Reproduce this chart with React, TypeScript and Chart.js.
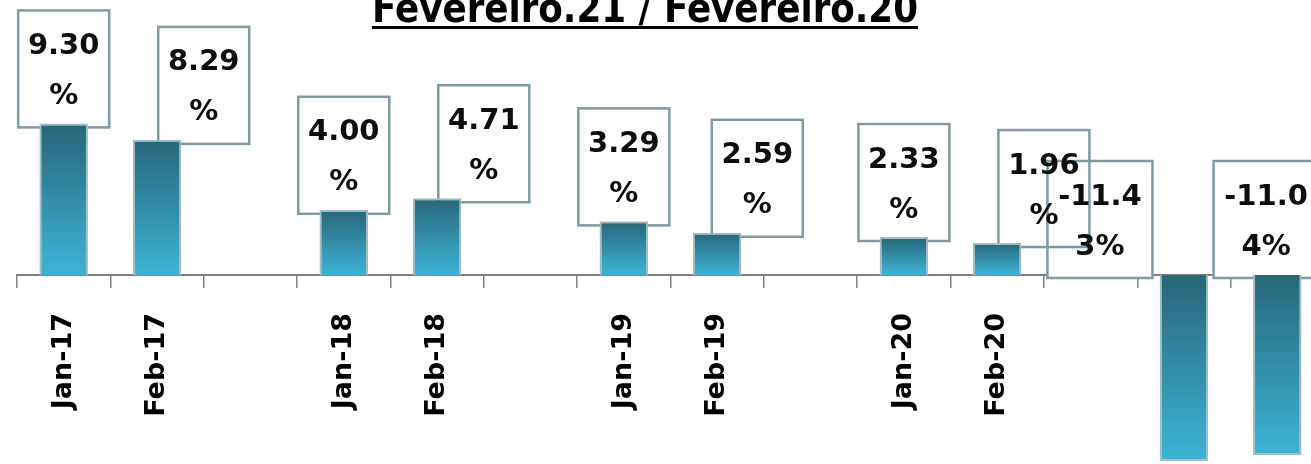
import React, { useEffect, useRef } from "react";
import { Chart, registerables } from "chart.js";

Chart.register(...registerables);

// ---- data ----
const categories = ["Jan-17", "Feb-17", "", "Jan-18", "Feb-18", "", "Jan-19", "Feb-19", "", "Jan-20", "Feb-20", "", "Jan-21", "Feb-21"];
const growth: (number | null)[] = [9.3, 8.29, null, 4.0, 4.71, null, 3.29, 2.59, null, 2.33, 1.96, null, -11.43, -11.04];
const titleText = "Fevereiro.21 / Fevereiro.20";
// horizontal nudge of each value box, in category widths
const labelShift = [0, 0.5, 0, 0, 0.5, 0, 0, 0.43, 0, 0, 0.5, 0, -0.9, -0.12];

const FONT = '"DejaVu Sans", Verdana, sans-serif';
const Y_MIN = -12;
const Y_MAX = 10;

export default function App() {
  const ref = useRef<HTMLCanvasElement | null>(null);

  useEffect(() => {
    const canvas = ref.current;
    if (!canvas) return;

    const barFill = (c: any) => {
      const chart = c.chart;
      const v = c.raw;
      const ys = chart.scales?.y;
      if (v == null || !ys || !chart.chartArea) return "#3391ad";
      const top = ys.getPixelForValue(Math.max(v, 0));
      const bottom = ys.getPixelForValue(Math.min(v, 0));
      const g = chart.ctx.createLinearGradient(0, top, 0, bottom);
      g.addColorStop(0, "#276778");
      g.addColorStop(1, "#3db3d7");
      return g;
    };

    const boxLabels = {
      id: "boxLabels",
      beforeDatasetsDraw(chart: any) {
        const ctx = chart.ctx as CanvasRenderingContext2D;
        const meta = chart.getDatasetMeta(0);
        const ys = chart.scales.y;
        const xs = chart.scales.x;
        const zero = ys.getPixelForValue(0);
        const cat = xs.width / categories.length;
        ctx.save();
        ctx.font = `bold 29px ${FONT}`;
        const boxes: any[] = [];
        growth.forEach((v, i) => {
          if (v == null) return;
          const el = meta.data[i];
          const w = v < 0 ? 105 : 91;
          const h = 117;
          const cx = el.x + labelShift[i] * cat;
          const bottom = v >= 0 ? el.y + 4 : zero + 3;
          const text = v.toFixed(2) + "%";
          let l1 = "";
          let k = 0;
          for (; k < text.length; k++) {
            if (ctx.measureText(l1 + text[k]).width > w - 12) break;
            l1 += text[k];
          }
          const l2 = text.slice(k);
          boxes.push({ x: cx - w / 2, y: bottom - h, w, h, l1, l2, cx });
        });
        ctx.fillStyle = "#ffffff";
        boxes.forEach((b) => ctx.fillRect(b.x, b.y, b.w, b.h));
        ctx.strokeStyle = "#7f9ba2";
        ctx.lineWidth = 2.5;
        boxes.forEach((b) => ctx.strokeRect(b.x, b.y, b.w, b.h));
        ctx.fillStyle = "#0d0d0d";
        ctx.textAlign = "center";
        ctx.textBaseline = "middle";
        boxes.forEach((b) => {
          ctx.fillText(b.l1, b.cx, b.y + 36);
          if (b.l2) ctx.fillText(b.l2, b.cx, b.y + 86);
        });
        ctx.restore();
      },
    };

    const titlePlugin = {
      id: "ulTitle",
      afterDraw(chart: any) {
        const ctx = chart.ctx as CanvasRenderingContext2D;
        ctx.save();
        const size = 41;
        ctx.font = `bold ${size}px ${FONT}`;
        const m = ctx.measureText(titleText).width;
        const target = 546;
        const sx = target / m;
        const cx = 645;
        ctx.fillStyle = "#000000";
        ctx.textAlign = "center";
        ctx.textBaseline = "alphabetic";
        ctx.save();
        ctx.translate(cx, 22);
        ctx.scale(sx, 1);
        ctx.fillText(titleText, 0, 0);
        ctx.restore();
        ctx.fillRect(cx - target / 2, 26, target, 3);
        ctx.restore();
      },
    };

    const chart = new Chart(canvas, {
      type: "bar",
      data: {
        labels: categories,
        datasets: [
          {
            data: growth,
            backgroundColor: barFill,
            borderColor: "#a3bcc3",
            borderWidth: 2,
            barPercentage: 0.52,
            categoryPercentage: 1,
          },
        ],
      },
      options: {
        responsive: false,
        animation: false,
        devicePixelRatio: 1,
        layout: { padding: { left: 17, right: 16, top: 112, bottom: 480 - (112 + (Y_MAX - Y_MIN) * 16.3) } },
        plugins: {
          legend: { display: false },
          title: { display: false },
          tooltip: { enabled: false },
        },
        scales: {
          x: {
            position: { y: 0 } as any,
            offset: true,
            grid: {
              offset: true,
              drawOnChartArea: false,
              drawTicks: true,
              tickLength: 12,
              color: "#808080",
              lineWidth: 1.5,
            },
            border: { display: true, color: "#808080", width: 2 },
            ticks: {
              autoSkip: false,
              minRotation: 90,
              maxRotation: 90,
              padding: 26,
              color: "#000000",
              font: { family: FONT, size: 27, weight: "bold" },
            },
          },
          y: {
            display: false,
            min: Y_MIN,
            max: Y_MAX,
          },
        },
      },
      plugins: [boxLabels, titlePlugin],
    });

    return () => chart.destroy();
  }, []);

  return (
    <div
      style={{
        position: "fixed",
        left: 0,
        top: 0,
        width: 1311,
        height: 464,
        overflow: "hidden",
        background: "#ffffff",
      }}
    >
      <canvas ref={ref} width={1340} height={480} style={{ width: 1340, height: 480, display: "block" }} />
    </div>
  );
}
